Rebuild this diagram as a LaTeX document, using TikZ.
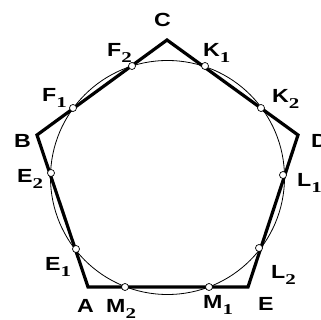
\documentclass[tikz,border=0pt]{standalone}
\usepackage{fontspec}
\setmainfont{Liberation Sans}[FakeStretch=1.22]
\newfontfamily\subf{Liberation Serif}[FakeStretch=1.4]
\newcommand\lbl[2]{#1\raisebox{-6pt}{\subf\bfseries\fontsize{15}{15}\selectfont #2}}
\tikzset{
  side/.style={line width=3.2pt, line join=miter},
  incirc/.style={circle, draw, line width=0.8pt, inner sep=0pt, minimum size=234pt},
  pt/.style={circle, draw, fill=white, line width=0.7pt, inner sep=0pt, minimum size=7pt},
  lab/.style={anchor=base west, inner sep=0pt, font=\fontsize{19}{19}\selectfont\bfseries}
}
\begin{document}
\begin{tikzpicture}[x=1pt,y=-1pt]
\useasboundingbox (0,0) rectangle (321,320);
% vertices
\coordinate (A) at (88,287);
\coordinate (B) at (37,135);
\coordinate (C) at (167,40);
\coordinate (D) at (298,135);
\coordinate (E) at (248,287);
% circle
\node[incirc] (O) at (167.5,177.5) {};
% pentagon
\draw[side] (A) -- (B) -- (C) -- (D) -- (E) -- cycle;
% points
\node[pt] (F2) at (132,66) {};
\node[pt] (K1) at (205,66) {};
\node[pt] (F1) at (73,108) {};
\node[pt] (K2) at (261,108) {};
\node[pt] (E2) at (51,173) {};
\node[pt] (L1) at (283,175) {};
\node[pt] (E1) at (76,249) {};
\node[pt] (L2) at (259,248) {};
\node[pt] (M2) at (125,287) {};
\node[pt] (M1) at (209,287) {};
% labels
\node[lab] (lC) at (154,27) {C};
\node[lab] (lF2) at (107,57) {\lbl{F}{2}};
\node[lab] (lK1) at (203,57) {\lbl{K}{1}};
\node[lab] (lF1) at (42,102) {\lbl{F}{1}};
\node[lab] (lK2) at (272,103) {\lbl{K}{2}};
\node[lab] (lB) at (14,148) {B};
\node[lab] (lD) at (311,148) {D};
\node[lab] (lE2) at (17,183) {\lbl{E}{2}};
\node[lab] (lL1) at (297,187) {\lbl{L}{1}};
\node[lab] (lE1) at (45,270) {\lbl{E}{1}};
\node[lab] (lL2) at (271,278) {\lbl{L}{2}};
\node[lab] (lA) at (77,312) {A};
\node[lab] (lM2) at (106,312) {\lbl{M}{2}};
\node[lab] (lM1) at (203,308) {\lbl{M}{1}};
\node[lab] (lE) at (258,310) {E};
\end{tikzpicture}
\end{document}
